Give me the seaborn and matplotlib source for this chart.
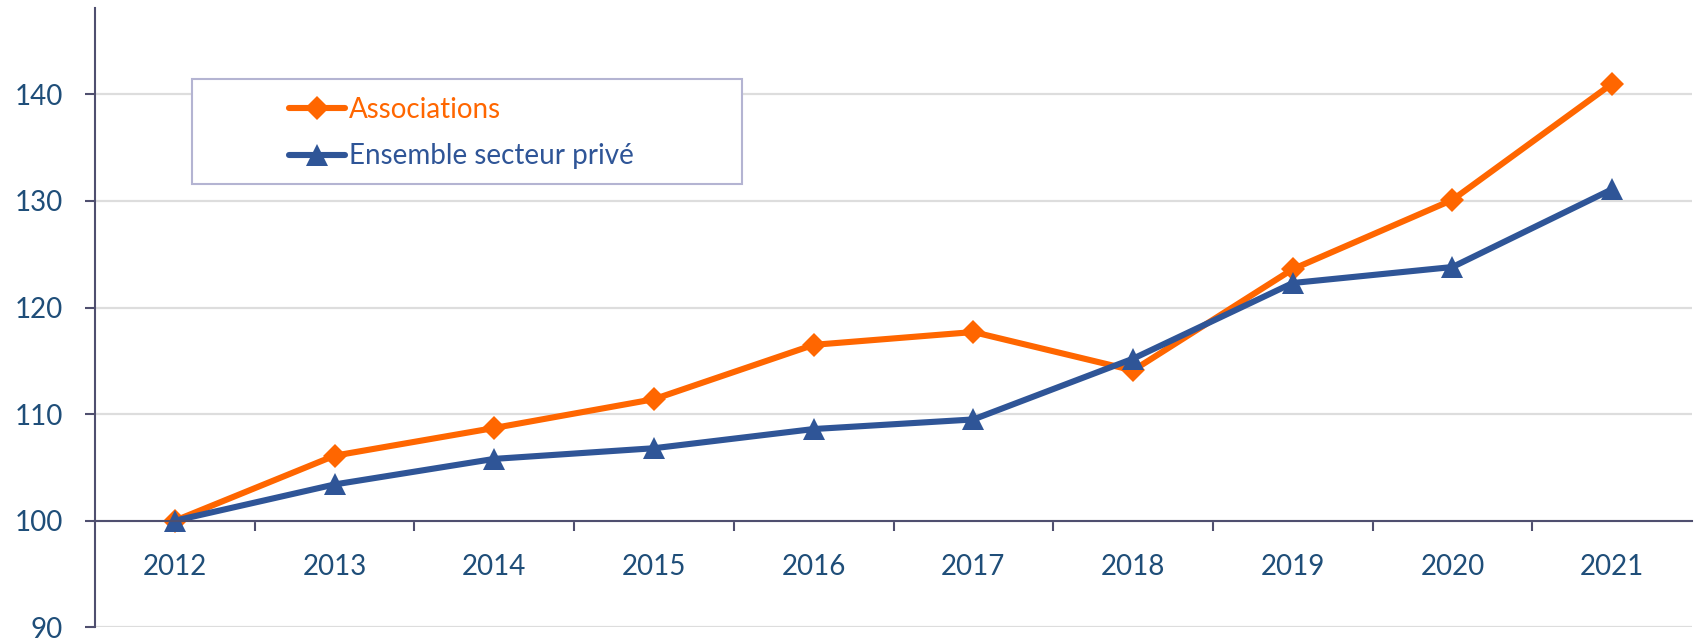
import matplotlib
matplotlib.use("Agg")
import matplotlib.pyplot as plt
import seaborn as sns
import pandas as pd
from matplotlib.patches import Rectangle

years = ["2012", "2013", "2014", "2015", "2016", "2017", "2018", "2019", "2020", "2021"]
associations = [100, 106.1, 108.7, 111.4, 116.5, 117.7, 114.1, 123.6, 130.1, 141.0]
ensemble = [100, 103.4, 105.8, 106.8, 108.6, 109.5, 115.2, 122.3, 123.8, 131.1]
series_names = ["Associations", "Ensemble secteur privé"]
y_ticks = [90, 100, 110, 120, 130, 140]

df = pd.DataFrame({
    "year": years * 2,
    "value": associations + ensemble,
    "series": [series_names[0]] * len(years) + [series_names[1]] * len(years),
})

sns.set_theme(style="white")
plt.rcParams["font.family"] = ["Lato", "DejaVu Sans"]

ORANGE = "#FF6600"
BLUE = "#2F5597"
TICK_COLOR = "#1F4E79"
SPINE = "#4F4F6F"

fig = plt.figure(figsize=(16.94, 6.39), dpi=100)
ax = fig.add_axes([95 / 1694, 11.7 / 639, 1597 / 1694, 619.3 / 639])

sns.lineplot(data=df, x="year", y="value", hue="series", style="series",
             hue_order=series_names, style_order=series_names,
             palette={series_names[0]: ORANGE, series_names[1]: BLUE},
             markers={series_names[0]: "D", series_names[1]: "^"},
             dashes=False, linewidth=4.4, markersize=12.5, markeredgewidth=0,
             ax=ax)

# enlarge triangle markers
for ln in ax.get_lines():
    if ln.get_marker() == "^":
        ln.set_markersize(16)

ax.set_xlim(-0.5, len(years) - 0.5)
ax.set_ylim(90, 148.1)
ax.set_yticks(y_ticks)
ax.yaxis.grid(True, color="#DDDDDD", linewidth=1.6)
ax.set_axisbelow(True)
ax.set_xlabel("")
ax.set_ylabel("")

for s in ["top", "right"]:
    ax.spines[s].set_visible(False)
ax.spines["left"].set_color(SPINE)
ax.spines["left"].set_linewidth(1.5)
ax.spines["bottom"].set_position(("data", 100))
ax.spines["bottom"].set_color(SPINE)
ax.spines["bottom"].set_linewidth(1.5)

ax.set_xticks(range(len(years)))
ax.set_xticklabels(years)
ax.set_xticks([i + 0.5 for i in range(len(years) - 1)], minor=True)
ax.tick_params(axis="x", which="major", length=0, pad=24, labelsize=20, labelcolor=TICK_COLOR)
ax.tick_params(axis="x", which="minor", length=7, width=1.5, color=SPINE, direction="out", bottom=True)
ax.tick_params(axis="y", which="major", length=7, width=1.5, color=SPINE, direction="out",
               pad=16, labelsize=20, labelcolor=TICK_COLOR, left=True)

ax.get_legend().remove()

# legend frame
fig.add_artist(Rectangle((192 / 1694, 1 - 184 / 639), 550 / 1694, 105 / 639,
                         transform=fig.transFigure, facecolor="white",
                         edgecolor="#B4B4D2", linewidth=1.5, zorder=5))
handles, labels = ax.get_legend_handles_labels()
for h in handles:
    if h.get_marker() == "^":
        h.set_markersize(16)
leg = fig.legend(handles, labels, loc="center left",
                 bbox_to_anchor=(289 / 1694, 1 - 133 / 639), bbox_transform=fig.transFigure,
                 frameon=False, fontsize=20, labelcolor="linecolor",
                 handlelength=2.0, handletextpad=0.15, labelspacing=0.75,
                 borderpad=0, borderaxespad=0)
leg.set_zorder(6)

fig.savefig("out.png", dpi=100)
